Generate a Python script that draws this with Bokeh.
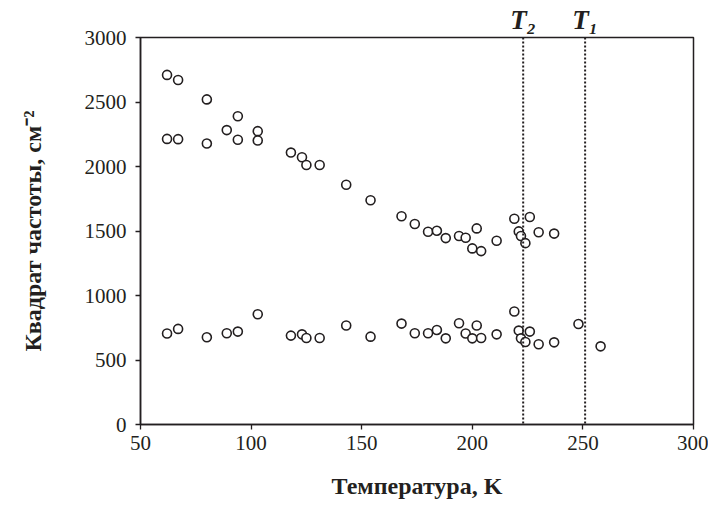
from bokeh.plotting import figure
from bokeh.models import Span, SingleIntervalTicker, FixedTicker, LinearAxis
from bokeh.embed import file_html
from bokeh.resources import INLINE

# Data
temps_high = [62, 67, 80, 94, 89, 103, 62, 67, 80, 94, 103, 118, 123, 125, 131,
              143, 154, 168, 174, 180, 184, 188, 194, 197, 202, 200, 204, 211,
              219, 226, 221, 222, 224, 230, 237]
freq_high = [2710, 2670, 2520, 2390, 2282, 2274, 2214, 2212, 2178, 2207, 2201,
             2108, 2072, 2012, 2012, 1859, 1738, 1614, 1554, 1494, 1502, 1445,
             1461, 1448, 1520, 1365, 1344, 1424, 1595, 1608, 1497, 1461, 1406,
             1490, 1480]
temps_low = [62, 67, 80, 89, 94, 103, 118, 123, 125, 131, 143, 154, 168, 174,
             180, 184, 188, 194, 197, 200, 202, 204, 211, 219, 221, 222, 224,
             226, 230, 237, 248, 258]
freq_low = [705, 741, 676, 707, 720, 855, 689, 699, 671, 671, 767, 681, 782, 707,
            707, 733, 668, 785, 705, 668, 767, 671, 699, 876, 728, 668, 640,
            720, 622, 637, 779, 606]
T2 = 223
T1 = 251
T_labels = {T2: "T₂", T1: "T₁"}
x_ticks_interval = 50
y_ticks_interval = 500

INK = "#231f20"
FONT = "Liberation Serif"

p = figure(width=708, height=507, x_range=(50, 300), y_range=(0, 3000),
           output_backend="svg", toolbar_location=None,
           min_border_left=140, min_border_right=15,
           min_border_top=37, min_border_bottom=83)

p.xgrid.visible = False
p.ygrid.visible = False
p.outline_line_color = INK
p.outline_line_width = 1.5
p.outline_line_alpha = 1.0

p.xaxis.ticker = SingleIntervalTicker(interval=x_ticks_interval)
p.yaxis.ticker = SingleIntervalTicker(interval=y_ticks_interval)
p.xaxis.minor_tick_line_color = None
p.yaxis.minor_tick_line_color = None

for ax in (p.xaxis, p.yaxis):
    ax.axis_line_color = INK
    ax.axis_line_width = 1.5
    ax.major_tick_line_color = INK
    ax.major_tick_line_width = 1.3
    ax.major_tick_in = 0
    ax.major_tick_out = 5
    ax.major_label_text_font = FONT
    ax.major_label_text_font_size = "21px"
    ax.major_label_text_color = INK
    ax.axis_label_text_font = FONT
    ax.axis_label_text_font_size = "24px"
    ax.axis_label_text_font_style = "bold"
    ax.axis_label_text_color = INK

p.xaxis.axis_label = "Температура, K"
p.yaxis.axis_label = "Квадрат частоты, см⁻²"
p.xaxis.major_label_standoff = 6
p.yaxis.major_label_standoff = 9
p.xaxis.axis_label_standoff = 20
p.yaxis.axis_label_standoff = 36

# T labels above the frame, placed at the transition temperatures
top_axis = LinearAxis(ticker=FixedTicker(ticks=[T2, T1]),
                      major_label_overrides=T_labels,
                      axis_line_color=None, major_tick_line_color=None,
                      minor_tick_line_color=None,
                      major_tick_in=0, major_tick_out=0,
                      major_label_standoff=3,
                      major_label_text_font=FONT,
                      major_label_text_font_size="27px",
                      major_label_text_font_style="bold italic",
                      major_label_text_color=INK)
p.add_layout(top_axis, "above")

for t in (T2, T1):
    p.add_layout(Span(location=t, dimension="height", line_color=INK,
                      line_width=2, line_dash="2 2"))

p.scatter(temps_high, freq_high, marker="circle", size=9, fill_color="white",
          line_color=INK, line_width=1.6)
p.scatter(temps_low, freq_low, marker="circle", size=9, fill_color="white",
          line_color=INK, line_width=1.6)

open("out.html", "w").write(file_html(p, INLINE))
